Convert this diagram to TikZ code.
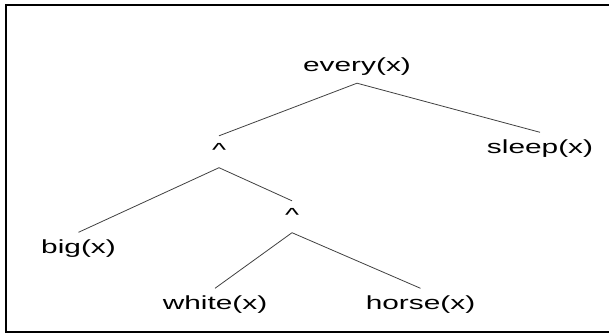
\documentclass[tikz,border=0pt]{standalone}
\usepackage{fontspec}
\setmainfont[FakeStretch=1.57]{Liberation Sans}

\begin{document}
\begin{tikzpicture}[
  x=1pt, y=-1pt,
  every node/.style={
    anchor=base,
    inner sep=0pt,
    text height=20.5pt,
    text depth=11pt,
    font=\fontsize{19}{23}\selectfont
  },
  branch/.style={draw=black!75, line width=0.8pt}
]
\useasboundingbox (0,0) rectangle (609,334);
\draw[black, line width=2pt] (609,5) -- (6,5) -- (6,332) -- (609,332);

\node (every) at (357,72) {every(x)};
\node (andA) at (219,156.5) {\textasciicircum};
\node (sleep) at (540,153) {sleep(x)};
\node (big) at (78.5,253) {big(x)};
\node (andB) at (292,221.5) {\textasciicircum};
\node (white) at (215,309) {white(x)};
\node (horse) at (420.5,309) {horse(x)};

\draw[branch] (every.south) -- (andA.north);
\draw[branch] (every.south) -- (sleep.north);
\draw[branch] (andA.south) -- (big.north);
\draw[branch] (andA.south) -- (andB.north);
\draw[branch] (andB.south) -- (white.north);
\draw[branch] (andB.south) -- (horse.north);
\end{tikzpicture}
\end{document}
